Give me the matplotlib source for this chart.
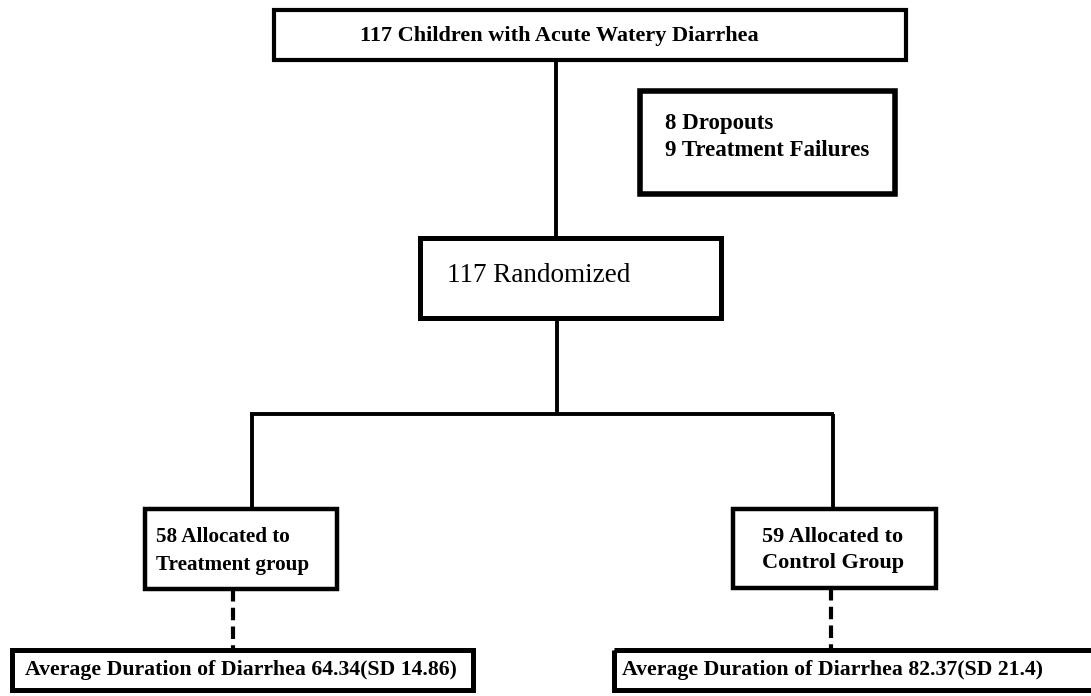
import matplotlib.pyplot as plt
import matplotlib.patches as mpatches

# flowchart content
n_total = 117
n_dropouts = 8
n_failures = 9
n_treat = 58
n_control = 59
mean_treat, sd_treat = 64.34, 14.86
mean_ctrl, sd_ctrl = 82.37, 21.4

top_label = f"{n_total} Children with Acute Watery Diarrhea"
excl_lines = [f"{n_dropouts} Dropouts", f"{n_failures} Treatment Failures"]
rand_label = f"{n_total} Randomized"
treat_label = f"{n_treat} Allocated to\nTreatment group"
ctrl_label = f"{n_control} Allocated to\nControl Group"
treat_result = f"Average Duration of Diarrhea {mean_treat:.2f}(SD {sd_treat:.2f})"
ctrl_result = f"Average Duration of Diarrhea {mean_ctrl:.2f}(SD {sd_ctrl})"

W, H = 1091, 696
FONT = "Liberation Serif"

fig = plt.figure(figsize=(W / 100, H / 100), dpi=100)
ax = fig.add_axes([0, 0, 1, 1])
ax.set_xlim(0, W)
ax.set_ylim(H, 0)
ax.axis("off")


def box(x0, y0, x1, y1, lw=3.4):
    ax.add_patch(mpatches.Rectangle((x0, y0), x1 - x0, y1 - y0, fill=False,
                                    ec="black", lw=lw, joinstyle="miter"))


def line(xs, ys, ls="-", lw=2.6):
    ax.plot(xs, ys, color="black", lw=lw, ls=ls, solid_capstyle="butt",
            dash_capstyle="butt")


# boxes
box(274, 10, 906, 60, lw=3.0)
box(640, 91, 895, 194, lw=4.0)
box(420, 238, 721, 318, lw=3.6)
box(145, 509, 337, 589, lw=3.2)
box(733, 509, 936, 588, lw=3.2)
box(12, 650, 473, 690, lw=3.6)
box(614, 650, 1100, 690, lw=3.6)

# connectors
line([556, 556], [60, 238], lw=2.8)
line([557, 557], [318, 414], lw=2.8)
line([250, 834], [414, 414], lw=2.8)
line([252, 252], [414, 509], lw=2.8)
line([833, 833], [414, 509], lw=2.8)
line([233, 233], [589, 650], ls=(0, (3, 1.5)), lw=3.0)
line([831, 831], [588, 650], ls=(0, (3, 1.5)), lw=3.0)

# texts
ax.text(360, 36, top_label, fontsize=16, fontweight="bold", family=FONT,
        ha="left", va="center")
ax.text(665, 123, excl_lines[0], fontsize=16.5, fontweight="bold", family=FONT,
        ha="left", va="center")
ax.text(665, 150, excl_lines[1], fontsize=16.5, fontweight="bold", family=FONT,
        ha="left", va="center")
ax.text(447, 275, rand_label, fontsize=19.5, family=FONT, ha="left", va="center")
ax.text(156, 551, treat_label, fontsize=15.2, fontweight="bold", family=FONT,
        ha="left", va="center", linespacing=1.58)
ax.text(833, 550, ctrl_label, fontsize=16, fontweight="bold", family=FONT,
        ha="center", va="center", linespacing=1.45)
ax.text(25, 670, treat_result, fontsize=15.7, fontweight="bold", family=FONT,
        ha="left", va="center")
ax.text(622, 670, ctrl_result, fontsize=15.7, fontweight="bold", family=FONT,
        ha="left", va="center")

fig.savefig("out.png", dpi=100)
